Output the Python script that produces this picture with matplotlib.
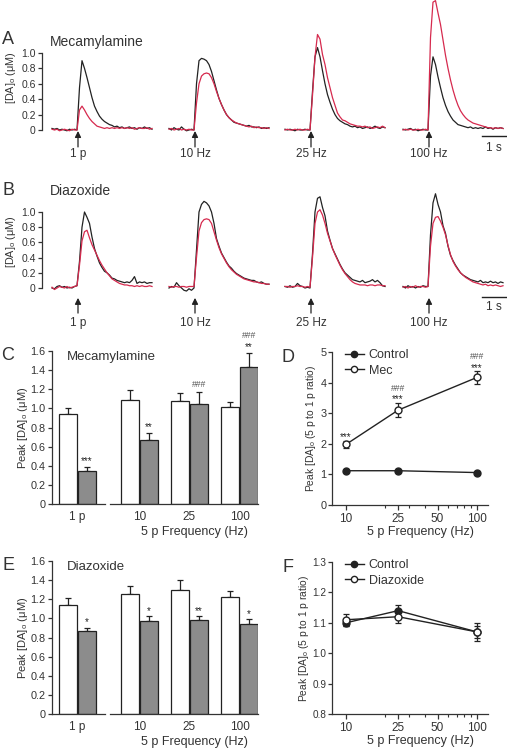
import numpy as np
import matplotlib.pyplot as plt
from matplotlib.lines import Line2D

plt.rcParams['font.family'] = ['Liberation Sans', 'DejaVu Sans']
plt.rcParams['mathtext.fontset'] = 'custom'
plt.rcParams['mathtext.rm'] = 'Liberation Sans'
plt.rcParams['text.color'] = '#333333'
plt.rcParams['axes.edgecolor'] = '#333333'
plt.rcParams['xtick.color'] = '#333333'
plt.rcParams['ytick.color'] = '#333333'

# ---- traces, sampled every 0.1 s (0 .. 4 s), stimulus at ~1 s ----
t = np.linspace(0, 4, 41)
stim_labels = ['1 p', '10 Hz', '25 Hz', '100 Hz']

mec_ctrl_traces = [
    [0.02, 0.01, 0.02, 0.0, 0.01, 0.0, -0.01, 0.01, 0.0, 0.01, 0.0,
     0.55, 0.9, 0.8, 0.68, 0.55, 0.42, 0.31, 0.24, 0.18, 0.14,
     0.11, 0.09, 0.07, 0.06, 0.04, 0.05, 0.03, 0.04, 0.02, 0.03,
     0.04, 0.02, 0.03, 0.01, 0.03, 0.02, 0.04, 0.02, 0.03, 0.01],
    [0.02, 0.0, 0.03, 0.01, 0.0, 0.04, 0.01, -0.01, 0.0, 0.01, 0.0,
     0.6, 0.9, 0.93, 0.92, 0.9, 0.85, 0.76, 0.64, 0.52, 0.41,
     0.33, 0.26, 0.2, 0.16, 0.13, 0.1, 0.09, 0.08, 0.07, 0.06,
     0.05, 0.06, 0.04, 0.04, 0.03, 0.04, 0.02, 0.03, 0.02, 0.03],
    [0.01, 0.0, 0.01, 0.0, -0.01, 0.01, 0.0, 0.0, 0.01, 0.0, 0.0,
     0.5, 0.95, 1.07, 0.95, 0.77, 0.6, 0.46, 0.36, 0.27, 0.2,
     0.15, 0.12, 0.1, 0.08, 0.07, 0.05, 0.04, 0.05, 0.03, 0.04,
     0.02, 0.03, 0.04, 0.02, 0.03, 0.05, 0.03, 0.02, 0.04, 0.03],
    [0.01, 0.0, 0.01, 0.02, 0.0, 0.01, -0.01, 0.0, 0.01, 0.0, 0.0,
     0.7, 0.95, 0.85, 0.69, 0.55, 0.42, 0.32, 0.24, 0.18, 0.13,
     0.1, 0.07, 0.06, 0.05, 0.04, 0.03, 0.04, 0.02, 0.03, 0.02,
     0.03, 0.02, 0.04, 0.02, 0.03, 0.01, 0.03, 0.02, 0.03, 0.02],
]
mec_drug_traces = [
    [0.01, 0.0, 0.01, -0.01, 0.0, 0.01, 0.0, -0.01, 0.01, 0.0, 0.0,
     0.26, 0.31, 0.26, 0.2, 0.15, 0.11, 0.08, 0.05, 0.04, 0.03,
     0.02, 0.03, 0.02, 0.03, 0.02, 0.03, 0.02, 0.03, 0.02, 0.03,
     0.02, 0.03, 0.01, 0.02, 0.03, 0.02, 0.02, 0.03, 0.01, 0.02],
    [0.01, 0.02, 0.0, 0.01, 0.02, 0.0, 0.01, 0.0, 0.01, 0.0, 0.0,
     0.35, 0.6, 0.7, 0.73, 0.74, 0.73, 0.68, 0.6, 0.5, 0.41,
     0.33, 0.26, 0.2, 0.16, 0.13, 0.11, 0.09, 0.08, 0.07, 0.06,
     0.05, 0.04, 0.05, 0.03, 0.04, 0.03, 0.03, 0.02, 0.03, 0.02],
    [0.0, 0.01, 0.0, 0.0, 0.01, 0.0, 0.01, 0.0, 0.0, 0.01, 0.0,
     0.45, 0.95, 1.24, 1.18, 0.98, 0.85, 0.68, 0.55, 0.42, 0.32,
     0.22, 0.17, 0.13, 0.12, 0.1, 0.08, 0.07, 0.06, 0.05, 0.05,
     0.04, 0.05, 0.03, 0.04, 0.02, 0.03, 0.04, 0.03, 0.05, 0.03],
    [0.0, 0.01, 0.0, 0.01, 0.0, 0.0, 0.01, 0.0, 0.0, 0.01, 0.0,
     1.2, 1.66, 1.68, 1.52, 1.37, 1.17, 0.97, 0.8, 0.65, 0.52,
     0.41, 0.32, 0.25, 0.2, 0.16, 0.13, 0.11, 0.09, 0.08, 0.07,
     0.06, 0.05, 0.04, 0.03, 0.03, 0.02, 0.03, 0.02, 0.03, 0.02],
]
diaz_ctrl_traces = [
    [0.0, -0.01, 0.02, 0.03, 0.01, 0.02, 0.0, 0.01, 0.0, 0.02, 0.03,
     0.35, 0.8, 1.0, 0.93, 0.85, 0.67, 0.52, 0.42, 0.33, 0.27,
     0.22, 0.2, 0.17, 0.13, 0.12, 0.1, 0.09, 0.08, 0.07, 0.08,
     0.07, 0.1, 0.15, 0.06, 0.08, 0.07, 0.08, 0.06, 0.07, 0.07],
    [0.0, 0.02, 0.01, 0.07, 0.03, 0.0, -0.03, -0.04, -0.01, -0.03, 0.0,
     0.5, 1.0, 1.1, 1.14, 1.12, 1.08, 1.0, 0.85, 0.65, 0.55,
     0.46, 0.4, 0.34, 0.29, 0.26, 0.22, 0.19, 0.17, 0.15, 0.13,
     0.12, 0.11, 0.1, 0.1, 0.08, 0.07, 0.08, 0.06, 0.05, 0.05],
    [0.02, 0.01, 0.03, 0.01, 0.02, 0.06, 0.03, 0.02, 0.0, 0.01, 0.0,
     0.45, 1.0, 1.18, 1.2, 1.06, 0.95, 0.75, 0.63, 0.52, 0.45,
     0.38, 0.31, 0.25, 0.2, 0.17, 0.14, 0.11, 0.1, 0.09, 0.08,
     0.1, 0.07, 0.08, 0.09, 0.11, 0.08, 0.1, 0.07, 0.03, 0.02],
    [0.02, 0.0, 0.03, 0.01, 0.02, 0.0, 0.02, 0.01, 0.03, 0.02, 0.02,
     0.7, 1.12, 1.24, 1.1, 1.0, 0.82, 0.72, 0.55, 0.43, 0.36,
     0.3, 0.25, 0.2, 0.17, 0.15, 0.13, 0.11, 0.1, 0.09, 0.08,
     0.1, 0.07, 0.08, 0.07, 0.09, 0.07, 0.08, 0.06, 0.08, 0.07],
]
diaz_drug_traces = [
    [0.01, -0.02, 0.0, 0.02, 0.01, 0.0, 0.02, 0.0, 0.01, 0.02, 0.03,
     0.3, 0.62, 0.74, 0.76, 0.66, 0.57, 0.5, 0.43, 0.36, 0.3,
     0.25, 0.2, 0.16, 0.12, 0.1, 0.08, 0.06, 0.05, 0.04, 0.04,
     0.03, 0.03, 0.02, 0.03, 0.02, 0.03, 0.02, 0.02, 0.03, 0.02],
    [0.02, 0.01, 0.02, 0.02, 0.01, 0.02, 0.02, 0.01, 0.02, 0.02, 0.02,
     0.4, 0.75, 0.86, 0.9, 0.91, 0.9, 0.85, 0.74, 0.63, 0.53,
     0.45, 0.39, 0.33, 0.28, 0.24, 0.21, 0.18, 0.16, 0.14, 0.12,
     0.11, 0.1, 0.09, 0.08, 0.08, 0.07, 0.06, 0.06, 0.05, 0.05],
    [0.02, 0.02, 0.01, 0.02, 0.02, 0.03, 0.02, 0.02, 0.01, 0.02, 0.01,
     0.4, 0.85, 1.0, 1.03, 0.96, 0.85, 0.72, 0.62, 0.52, 0.44,
     0.37, 0.3, 0.24, 0.19, 0.15, 0.11, 0.08, 0.06, 0.05, 0.04,
     0.04, 0.04, 0.03, 0.04, 0.04, 0.03, 0.04, 0.04, 0.03, 0.03],
    [0.01, 0.02, 0.0, 0.02, 0.01, 0.03, 0.01, 0.02, 0.02, 0.01, 0.02,
     0.55, 0.85, 0.93, 0.94, 0.88, 0.8, 0.7, 0.56, 0.44, 0.35,
     0.29, 0.24, 0.2, 0.17, 0.14, 0.12, 0.1, 0.08, 0.07, 0.06,
     0.05, 0.04, 0.05, 0.03, 0.04, 0.03, 0.04, 0.03, 0.02, 0.03],
]

# ---- bar data: first value = 1 p, then 10, 25, 100 Hz ----
bar_labels = ['1 p', '10', '25', '100']
mec_ctrl = [0.94, 1.09, 1.08, 1.01]
mec_ctrl_err = [0.06, 0.10, 0.08, 0.06]
mec_drug = [0.35, 0.67, 1.05, 1.43]
mec_drug_err = [0.04, 0.07, 0.12, 0.15]
mec_stars = ['***', '**', '', '**']
mec_hash = ['', '', '###', '###']

diaz_ctrl = [1.14, 1.25, 1.30, 1.22]
diaz_ctrl_err = [0.07, 0.09, 0.10, 0.07]
diaz_drug = [0.87, 0.97, 0.98, 0.94]
diaz_drug_err = [0.03, 0.05, 0.04, 0.05]
diaz_stars = ['*', '*', '**', '*']
diaz_hash = ['', '', '', '']

# ---- ratio data ----
freqs = [10, 25, 100]
ratio_ctrl_d = [1.12, 1.12, 1.06]
ratio_ctrl_d_err = [0.03, 0.03, 0.03]
ratio_mec = [1.98, 3.10, 4.17]
ratio_mec_err = [0.11, 0.23, 0.20]
ratio_mec_stars = ['***', '***', '***']
ratio_mec_hash = ['', '###', '###']

ratio_ctrl_f = [1.10, 1.14, 1.07]
ratio_ctrl_f_err = [0.01, 0.02, 0.02]
ratio_diaz = [1.11, 1.12, 1.07]
ratio_diaz_err = [0.02, 0.02, 0.03]

W, H = 507, 750
DARK = '#222222'
RED = '#d62a4e'
GREY = '#8c8c8c'
HASH = '#555555'


def box(l, t_, r, b):
    return [l / W, 1 - b / H, (r - l) / W, (b - t_) / H]


def ftext(x, y, s, **kw):
    fig.text(x / W, 1 - y / H, s, **kw)


fig = plt.figure(figsize=(W / 100, H / 100), dpi=100)

seg_offset = [0.0, 4.68, 9.32, 14.04]
stim_t = 1.04


def trace_panel(rect, ylim, ctrl, drug, y_head, y_tail, y_lab, y_bar, y_bar_txt):
    ax = fig.add_axes(rect)
    for off, yb, yr in zip(seg_offset, ctrl, drug):
        ax.plot(t + off, yb, color=DARK, lw=0.9, clip_on=False)
        ax.plot(t + off, yr, color=RED, lw=0.9, clip_on=False)
    for off, lab in zip(seg_offset, stim_labels):
        ax.annotate('', xy=(off + stim_t, y_head), xytext=(off + stim_t, y_tail),
                    arrowprops=dict(arrowstyle='-|>', color=DARK, lw=0.9,
                                    mutation_scale=9, shrinkA=0, shrinkB=0),
                    annotation_clip=False)
        ax.text(off + stim_t, y_lab, lab, ha='center', va='center', fontsize=8.5)
    ax.plot([17.2, 18.2], [y_bar, y_bar], color=DARK, lw=1, clip_on=False)
    ax.text(17.68, y_bar_txt, '1 s', ha='center', va='center', fontsize=8.5)
    ax.set_xlim(-0.4, 18.2)
    ax.set_ylim(*ylim)
    for s in ['top', 'right', 'bottom']:
        ax.spines[s].set_visible(False)
    ax.spines['left'].set_bounds(0, 1.0)
    ax.spines['left'].set_linewidth(0.9)
    ax.set_xticks([])
    ax.set_yticks([0, 0.2, 0.4, 0.6, 0.8, 1.0])
    ax.set_yticklabels(['0', '0.2', '0.4', '0.6', '0.8', '1.0'])
    ax.tick_params(axis='y', length=3, width=0.9, pad=1.5, labelsize=7.5)
    ax.patch.set_alpha(0)
    return ax


trace_panel(box(42, 0, 507, 133.85), (-0.05, 1.688), mec_ctrl_traces, mec_drug_traces,
            -0.013, -0.22, -0.31, -0.078, -0.234)
ftext(8, 39, 'A', fontsize=13, ha='center', va='center')
ftext(50, 42, 'Mecamylamine', fontsize=10, va='center')
ftext(11, 78, r'[DA]$_\mathrm{o}$ (μM)', fontsize=7.8, rotation=90, ha='center', va='center')

trace_panel(box(42, 189.2, 507, 295.6), (-0.1, 1.3), diaz_ctrl_traces, diaz_drug_traces,
            -0.13, -0.33, -0.46, -0.118, -0.25)
ftext(8, 190, 'B', fontsize=13, ha='center', va='center')
ftext(50, 191, 'Diazoxide', fontsize=10, va='center')
ftext(11, 242, r'[DA]$_\mathrm{o}$ (μM)', fontsize=7.8, rotation=90, ha='center', va='center')


def mark(ax, x, top, s, dy, size, col):
    if s:
        ax.annotate(s, xy=(x, top), xytext=(0, dy), textcoords='offset points',
                    ha='center', va='bottom', fontsize=size, color=col,
                    annotation_clip=False)


def bar_panel(top, bot, ctrl, ctrl_err, drug, drug_err, stars, hashes, letter, title):
    ax1 = fig.add_axes(box(52, top, 105, bot))
    ax2 = fig.add_axes(box(110, top, 258, bot))
    xs = [np.array([0.0]), np.arange(3, dtype=float)]
    sl = [slice(0, 1), slice(1, 4)]
    for ax, x, s in zip([ax1, ax2], xs, sl):
        c = np.array(ctrl[s]); ce = np.array(ctrl_err[s])
        d = np.array(drug[s]); de = np.array(drug_err[s])
        ax.bar(x - 0.19, c, 0.36, color='white', edgecolor=DARK, lw=0.9, zorder=2)
        ax.bar(x + 0.19, d, 0.36, color=GREY, edgecolor=DARK, lw=0.9, zorder=2)
        ax.errorbar(x - 0.19, c, yerr=[np.zeros_like(ce), ce], fmt='none', ecolor=DARK,
                    elinewidth=0.9, capsize=2.5, capthick=0.9, zorder=1)
        ax.errorbar(x + 0.19, d, yerr=[np.zeros_like(de), de], fmt='none', ecolor=DARK,
                    elinewidth=0.9, capsize=2.5, capthick=0.9, zorder=1)
        for xi, di, dei, st, hs in zip(x, d, de, stars[s], hashes[s]):
            mark(ax, xi + 0.19, di + dei, st, 0.5, 7, DARK)
            mark(ax, xi + 0.19, di + dei, hs, 9 if st else 2.5, 6.2, HASH)
        ax.set_ylim(0, 1.6)
        for sp in ['top', 'right']:
            ax.spines[sp].set_visible(False)
        ax.spines['bottom'].set_linewidth(0.9)
        ax.spines['left'].set_linewidth(0.9)
        ax.tick_params(axis='x', length=0, pad=5, labelsize=8.5)
        ax.patch.set_alpha(0)
    ax1.set_xlim(-0.5, 0.56)
    ax2.set_xlim(-0.59, 2.37)
    ax1.set_xticks([0]); ax1.set_xticklabels(bar_labels[:1])
    ax2.set_xticks([0, 1, 2]); ax2.set_xticklabels(bar_labels[1:])
    ax1.set_yticks(np.arange(0, 1.61, 0.2))
    ax1.set_yticklabels(['0', '0.2', '0.4', '0.6', '0.8', '1.0', '1.2', '1.4', '1.6'])
    ax1.tick_params(axis='y', length=3, width=0.9, pad=1.5, labelsize=7.8)
    ax2.spines['left'].set_visible(False)
    ax2.set_yticks([])
    ftext(194, bot + 28, '5 p Frequency (Hz)', fontsize=9, ha='center', va='center')
    ftext(23, (top + bot) / 2, r'Peak [DA]$_\mathrm{o}$ (μM)', fontsize=8, rotation=90,
          ha='center', va='center')
    ftext(8, top + 5, letter, fontsize=13, ha='center', va='center')
    ftext(67, top + 6, title, fontsize=9.5, va='center')


bar_panel(351, 504, mec_ctrl, mec_ctrl_err, mec_drug, mec_drug_err, mec_stars, mec_hash,
          'C', 'Mecamylamine')
bar_panel(561, 714, diaz_ctrl, diaz_ctrl_err, diaz_drug, diaz_drug_err, diaz_stars, diaz_hash,
          'E', 'Diazoxide')


def ratio_panel(top, bot, ylim, yticks, ylabels, ctrl, ctrl_err, drug, drug_err,
                drug_name, stars, hashes, letter, ylab_x, ytick_size):
    ax = fig.add_axes(box(332, top, 488, bot))
    ax.errorbar(freqs, ctrl, yerr=ctrl_err, fmt='-o', color=DARK, mfc=DARK, mec=DARK,
                ms=5, lw=1, elinewidth=0.9, capsize=2.5, capthick=0.9, clip_on=False, zorder=3)
    ax.errorbar(freqs, drug, yerr=drug_err, fmt='-o', color=DARK, mfc='white', mec=DARK,
                ms=5, lw=1, elinewidth=0.9, capsize=2.5, capthick=0.9, clip_on=False, zorder=4)
    for f, v, e, st, hs in zip(freqs, drug, drug_err, stars, hashes):
        mark(ax, f, v + e, st, -1, 7, DARK)
        mark(ax, f, v + e, hs, 7.6, 6.2, HASH)
    ax.set_xscale('log')
    ax.set_xlim(7.82, 121.3)
    ax.set_ylim(*ylim)
    ax.set_xticks([10, 25, 50, 100])
    ax.set_xticklabels(['10', '25', '50', '100'])
    ax.set_xticks([20, 30, 40, 60, 70, 80, 90], minor=True)
    ax.set_xticklabels([], minor=True)
    ax.set_yticks(yticks)
    ax.set_yticklabels(ylabels)
    for sp in ['top', 'right']:
        ax.spines[sp].set_visible(False)
    ax.spines['bottom'].set_linewidth(0.9)
    ax.spines['left'].set_linewidth(0.9)
    ax.tick_params(axis='x', which='major', length=3.5, width=0.9, pad=2, labelsize=8.5)
    ax.tick_params(axis='x', which='minor', length=2.5, width=0.8)
    ax.tick_params(axis='y', length=3, width=0.9, pad=1, labelsize=ytick_size)
    ax.patch.set_alpha(0)
    handles = [Line2D([], [], color=DARK, lw=1, marker='o', ms=4.5, mfc=DARK, mec=DARK),
               Line2D([], [], color=DARK, lw=1, marker='o', ms=4.5, mfc='white', mec=DARK)]
    fig.legend(handles, ['Control', drug_name], loc='upper left',
               bbox_to_anchor=(345 / W, 1 - (top - 3) / H), frameon=False, fontsize=9,
               handlelength=1.5, handletextpad=0.4, labelspacing=0.3, borderpad=0,
               borderaxespad=0)
    ftext(420, bot + 27, '5 p Frequency (Hz)', fontsize=9, ha='center', va='center')
    ftext(ylab_x, (top + bot) / 2, r'Peak [DA]$_\mathrm{o}$ (5 p to 1 p ratio)', fontsize=7.4,
          rotation=90, ha='center', va='center')
    ftext(288, top + 5, letter, fontsize=13, ha='center', va='center')


ratio_panel(352, 505, (0, 5), [0, 1, 2, 3, 4, 5], ['0', '1', '2', '3', '4', '5'],
            ratio_ctrl_d, ratio_ctrl_d_err, ratio_mec, ratio_mec_err, 'Mec',
            ratio_mec_stars, ratio_mec_hash, 'D', 311, 7.8)
ratio_panel(562, 714, (0.8, 1.3), [0.8, 0.9, 1.0, 1.1, 1.2, 1.3],
            ['0.8', '0.9', '1.0', '1.1', '1.2', '1.3'],
            ratio_ctrl_f, ratio_ctrl_f_err, ratio_diaz, ratio_diaz_err, 'Diazoxide',
            ['', '', ''], ['', '', ''], 'F', 304, 7.2)

fig.savefig('out.png', dpi=100)
